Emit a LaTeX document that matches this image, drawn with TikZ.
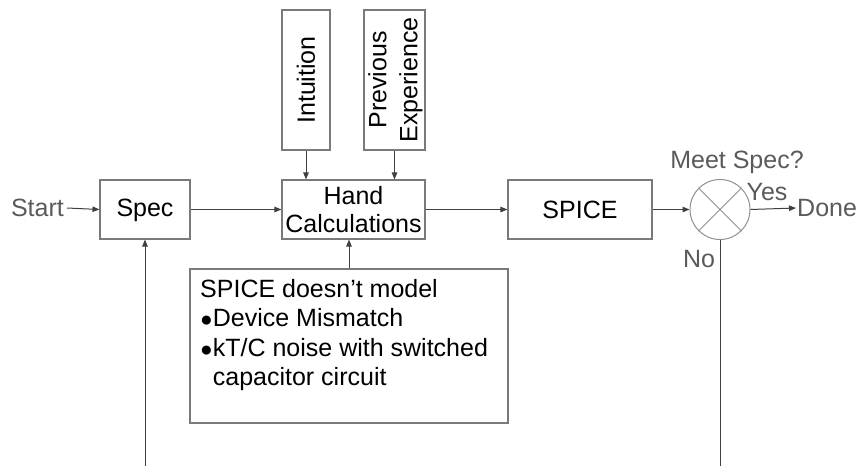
\documentclass[tikz,border=0pt]{standalone}
\usepackage{fontspec}
\setmainfont{Liberation Sans}
\usetikzlibrary{arrows.meta,calc}
\definecolor{boxc}{HTML}{7A7A7A}
\definecolor{linec}{HTML}{404040}
\definecolor{grayt}{HTML}{5A5A5A}
\definecolor{circc}{HTML}{909090}
\newcommand{\bigbul}{{\fontsize{21}{21}\selectfont ●}}
\tikzset{
  blk/.style={draw=boxc, line width=1.1pt, inner sep=0pt, fill=white},
  txt/.style={font=\fontsize{25}{28}\selectfont, inner sep=0pt, text=black},
  gtxt/.style={font=\fontsize{25}{28}\selectfont, inner sep=0pt, text=grayt},
  conn/.style={draw=linec, line width=1pt, -{Triangle[length=7pt,width=5.5pt]}},
  plain/.style={draw=linec, line width=1pt}
}
\begin{document}
\begin{tikzpicture}[x=1pt,y=-1pt]
\useasboundingbox (0,0) rectangle (860,466);
% boxes
\node[blk, minimum width=90, minimum height=59] (spec) at (145,209.5) {};
\node[txt] (spect) at (145,210) {Spec};
\node[blk, minimum width=143, minimum height=59] (hand) at (353.5,209.5) {};
\node[txt, align=center, font=\fontsize{25}{28}\selectfont] (handt) at (353.5,210) {Hand\\Calculations};
\node[blk, minimum width=48, minimum height=140] (intu) at (306,80) {};
\node[txt, rotate=90] (intut) at (306,80) {Intuition};
\node[blk, minimum width=61, minimum height=140] (prev) at (394.5,80) {};
\node[txt, rotate=90, align=center, font=\fontsize{25}{31}\selectfont] (prevt) at (395.5,80) {Previous\\Experience};
\node[blk, minimum width=318, minimum height=154] (note) at (349,346) {};
\node[txt, anchor=base west, align=left, font=\fontsize{25}{29.5}\selectfont] (notet) at (200,385.5)
  {SPICE doesn’t model\\\bigbul Device Mismatch\\\bigbul kT/C noise with switched\\\hphantom{\bigbul}capacitor circuit};
\node[blk, minimum width=144, minimum height=59] (spice) at (580,209.5) {};
\node[txt] (spicet) at (580,210) {SPICE};
% summing junction
\node[circle, draw=circc, line width=1pt, minimum size=60, inner sep=0pt] (sum) at (720,209.5) {};
\draw[circc, line width=1pt] (sum.north west) -- (sum.south east) (sum.north east) -- (sum.south west);
% labels
\node[gtxt, anchor=east] (start) at (64,208) {Start};
\node[gtxt, anchor=west] (done) at (797,208) {Done};
\node[gtxt] (meet) at (737,162) {Meet Spec?};
\node[gtxt] (yes) at (767,192) {Yes};
\node[gtxt] (no) at (699,259) {No};
% feedback ends
\coordinate (fbL) at (145,470);
\coordinate (fbR) at (720,470);
% connectors
\draw[conn] ($(start.east)+(3,0)$) -- (spec.west);
\draw[conn] (spec.east) -- (hand.west);
\draw[conn] (hand.east) -- (spice.west);
\draw[conn] (spice.east) -- (sum.west);
\draw[conn] (sum.east) -- ($(done.west)+(-1,0)$);
\draw[conn] (intu.south) -- (intu.south |- hand.north);
\draw[conn] (prev.south) -- (prev.south |- hand.north);
\draw[conn] (note.north) -- (note.north |- hand.south);
\draw[conn] (fbL) -- (spec.south);
\draw[plain] (sum.south) -- (fbR);
\end{tikzpicture}
\end{document}
